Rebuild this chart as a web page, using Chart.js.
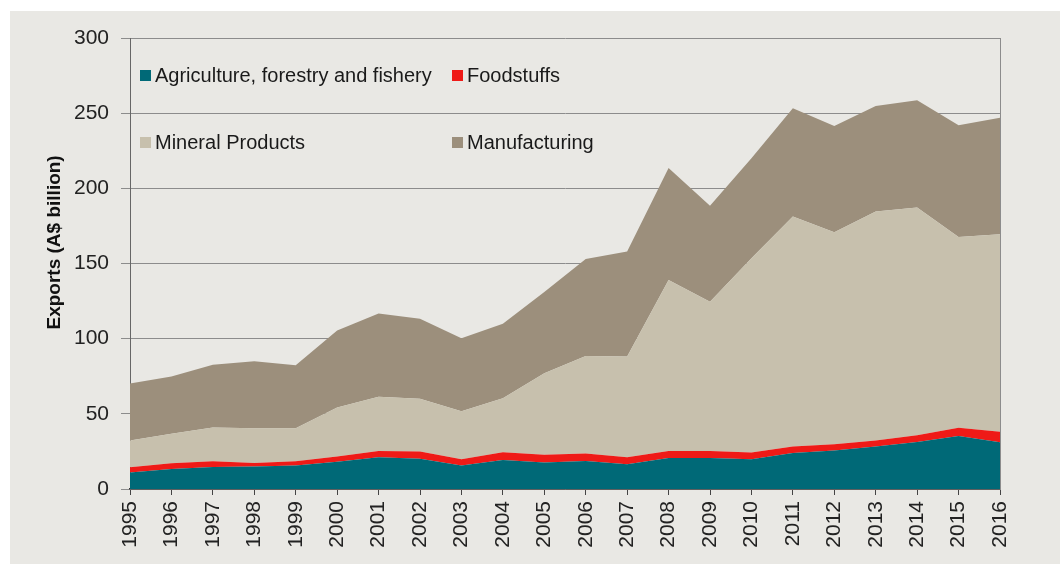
<!DOCTYPE html>
<html>
<head>
<meta charset="utf-8">
<script src="https://cdn.jsdelivr.net/npm/chart.js@4"></script>
<style>
  html, body { margin: 0; padding: 0; background: #ffffff; }
  #panel { position: absolute; left: 10px; top: 11px; width: 1050px; height: 553px; background: #e9e8e4; }
  #panel canvas { position: absolute; left: 0; top: 0; }
  #legend {
    position: absolute; left: 130px; top: 52px;
    display: grid; grid-template-columns: 312px auto; grid-auto-rows: 67.5px;
    font: 20px "Liberation Sans", Arial, sans-serif; color: #1a1a1a;
  }
  .item { display: flex; align-items: center; height: 24px; }
  .swatch { width: 11px; height: 11px; margin-right: 4px; }
</style>
</head>
<body>
<div id="panel">
  <canvas id="exportsChart" width="1050" height="553"></canvas>
  <div id="legend"></div>
</div>
<script>
// Australian exports by sector, A$ billion
const years = ['1995','1996','1997','1998','1999','2000','2001','2002','2003','2004','2005',
               '2006','2007','2008','2009','2010','2011','2012','2013','2014','2015','2016'];
const agriculture   = [10.9, 13.3, 14.7, 14.9, 15.6, 18.2, 21.1, 20.2, 15.6, 19.3, 17.6,
                       18.7, 16.4, 20.7, 20.7, 19.8, 24.0, 25.6, 28.2, 31.3, 35.3, 31.1];
const foodstuffs    = [3.5, 3.8, 3.7, 2.4, 2.8, 3.4, 4.2, 4.7, 4.2, 5.1, 5.1,
                       4.9, 4.7, 4.6, 4.6, 4.4, 4.2, 4.2, 4.0, 4.5, 5.4, 6.9];
const minerals      = [17.8, 19.6, 22.5, 23.1, 22.0, 32.6, 36.0, 35.1, 32.0, 36.0, 54.3,
                       64.9, 67.0, 113.7, 99.3, 129.3, 153.1, 141.0, 152.4, 151.4, 127.0, 131.5];
const manufacturing = [38.0, 38.2, 41.8, 44.5, 42.0, 51.3, 55.4, 53.3, 48.4, 49.6, 54.0,
                       64.5, 69.9, 74.6, 63.8, 66.5, 71.9, 70.6, 70.2, 71.4, 74.3, 77.5];

const tickFont = { family: '"Liberation Sans", Arial, sans-serif', size: 21 };

const chart = new Chart(document.getElementById('exportsChart').getContext('2d'), {
  type: 'line',
  data: {
    labels: years,
    datasets: [
      { label: 'Agriculture, forestry and fishery', data: agriculture, backgroundColor: '#006977', fill: 'origin' },
      { label: 'Foodstuffs', data: foodstuffs, backgroundColor: '#ef1a17', fill: '-1' },
      { label: 'Mineral Products', data: minerals, backgroundColor: '#c7c0ad', fill: '-1' },
      { label: 'Manufacturing', data: manufacturing, backgroundColor: '#9c8f7c', fill: '-1' }
    ]
  },
  options: {
    responsive: false,
    animation: false,
    elements: {
      line: { borderWidth: 0, tension: 0 },
      point: { radius: 0 }
    },
    layout: { padding: { left: 0, top: 27, right: 60, bottom: 0 } },
    plugins: {
      legend: { display: false },
      tooltip: { enabled: false }
    },
    scales: {
      x: {
        offset: false,
        grid: { drawOnChartArea: false, tickLength: 6, color: '#444' },
        border: { color: '#333', width: 1.5 },
        ticks: { minRotation: 90, maxRotation: 90, autoSkip: false, padding: 6, color: '#222', font: tickFont },
        afterFit: s => { s.height = 75; }
      },
      y: {
        stacked: true,
        min: 0,
        max: 300,
        ticks: { stepSize: 50, padding: 12, color: '#222', font: tickFont },
        grid: { color: '#8c8c8c', tickLength: 9 },
        border: { color: '#666' },
        title: {
          display: true,
          // leading spaces nudge the title up a little, as in the original
          text: '        Exports (A$ billion)',
          color: '#111',
          font: { family: '"Liberation Sans", Arial, sans-serif', size: 19, weight: 'bold' },
          padding: { top: 33, bottom: 0 }
        },
        afterFit: s => { s.width = 120; }
      },
      // plain right-hand frame line
      y2: {
        position: 'right',
        min: 0,
        max: 300,
        ticks: { display: false },
        grid: { display: false },
        border: { color: '#8c8c8c' },
        afterFit: s => { s.width = 0; }
      }
    }
  }
});

// legend laid out inside the plot, two columns
const legendEl = document.getElementById('legend');
chart.data.datasets.forEach(ds => {
  const item = document.createElement('div');
  item.className = 'item';
  item.innerHTML = `<span class="swatch" style="background:${ds.backgroundColor}"></span><span>${ds.label}</span>`;
  legendEl.appendChild(item);
});
</script>
</body>
</html>
